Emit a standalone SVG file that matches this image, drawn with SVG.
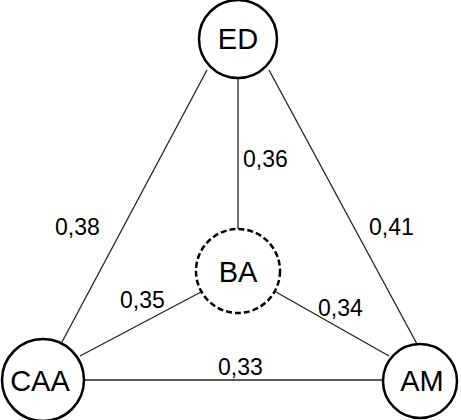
<svg xmlns="http://www.w3.org/2000/svg" width="461" height="420" viewBox="0 0 461 420">
  <style>
    .node circle { fill: #fff; stroke: #000; stroke-width: 2.5; }
    .node.dashed circle { stroke-dasharray: 6 3; }
    .node text { font-family: "Liberation Sans", Arial, sans-serif; font-size: 29px; text-anchor: middle; fill: #000; }
    .edges line { stroke: #222; stroke-width: 1.3; }
    .edges text { font-family: "Liberation Sans", Arial, sans-serif; font-size: 23px; fill: #000; }
  </style>
  <rect width="461" height="420" fill="#fff"/>

  <!-- connectors with their weights -->
  <g id="edges" class="edges">
    <line x1="207" y1="70" x2="62" y2="342"/>
    <line x1="269" y1="70" x2="417" y2="344"/>
    <line x1="238" y1="78" x2="238" y2="229"/>
    <line x1="201" y1="292" x2="80" y2="356"/>
    <line x1="276" y1="292" x2="389" y2="356"/>
    <line x1="84" y1="380" x2="383" y2="380"/>
    <text x="55" y="235">0,38</text>
    <text x="369" y="235">0,41</text>
    <text x="243" y="167">0,36</text>
    <text x="120" y="308">0,35</text>
    <text x="318" y="316">0,34</text>
    <text x="218" y="375">0,33</text>
  </g>

  <g id="node-ED" class="node">
    <circle cx="238" cy="39" r="39"/>
    <text x="238" y="49">ED</text>
  </g>
  <g id="node-BA" class="node dashed">
    <circle cx="238" cy="271" r="42"/>
    <text x="238" y="282">BA</text>
  </g>
  <g id="node-CAA" class="node">
    <circle cx="43" cy="380" r="41"/>
    <text x="40" y="391">CAA</text>
  </g>
  <g id="node-AM" class="node">
    <circle cx="420" cy="381" r="37"/>
    <text x="422" y="391">AM</text>
  </g>
</svg>
